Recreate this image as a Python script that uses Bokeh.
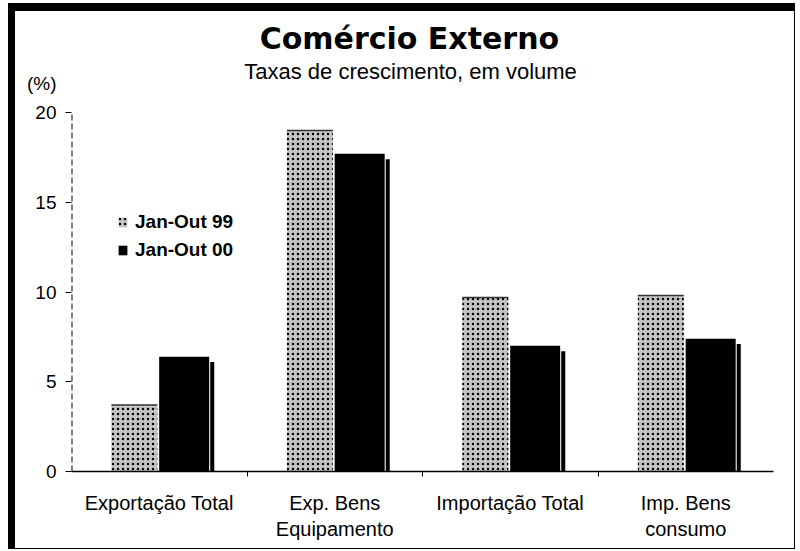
from bokeh.plotting import figure
from bokeh.models import (Range1d, FixedTicker, Label, Legend, LegendItem,
                          ColumnDataSource)
from bokeh.embed import file_html
from bokeh.resources import INLINE

# ---- data ----
categories = ["Exportação Total", "Exp. Bens\nEquipamento",
              "Importação Total", "Imp. Bens\nconsumo"]
jan_out_99 = [3.7, 19.0, 9.7, 9.8]
jan_out_00 = [6.4, 17.7, 7.0, 7.4]
series_names = ["Jan-Out 99", "Jan-Out 00"]
y_ticks = [0, 5, 10, 15, 20]
y_unit_label = "(%)"

centers = [i + 0.5 for i in range(len(categories))]
boundaries = [i for i in range(1, len(categories))]

src = ColumnDataSource(dict(
    x99=[c - 0.142 for c in centers],
    x00=[c + 0.142 for c in centers],
    xs=[c + 0.302 for c in centers],
    v99=jan_out_99,
    v00=jan_out_00,
    vs=[v - 0.3 for v in jan_out_00],
))

Y_TOP = 25.63    # free room above the 20 % line for the titles
UNIT_POS = 21.6  # height of the "(%)" caption, in axis units

p = figure(width=787, height=546, output_backend="svg", toolbar_location=None,
           x_range=Range1d(0, len(categories)), y_range=Range1d(0, Y_TOP),
           min_border_left=56, min_border_right=29,
           min_border_top=0, min_border_bottom=86)
p.styles = {"margin-left": "8px", "margin-top": "3px",
            "border-left": "7px solid black", "border-top": "8px solid black",
            "border-right": "1.5px solid black",
            "border-bottom": "1.5px solid black"}
p.background_fill_color = "white"
p.border_fill_color = "white"
p.outline_line_color = None
p.grid.visible = False

r99 = p.vbar(x="x99", width=0.262, top="v99", bottom=0, source=src,
             fill_color="#c4c4c4", line_color=None,
             hatch_pattern="dot", hatch_color="black", hatch_scale=5,
             hatch_weight=1.2)
p.vbar(x="x99", width=0.262, top="v99", bottom="v99", source=src,
       fill_color=None, line_color="#333333", line_width=1.5)
r00 = p.vbar(x="x00", width=0.285, top="v00", bottom=0, source=src,
             fill_color="black", line_color=None)
p.vbar(x="xs", width=0.023, top="vs", bottom=0, source=src,
       fill_color="black", line_color=None)

# dashed value-axis line (0 .. 20), drawn on the frame's left edge
p.segment(x0=[0], y0=[y_ticks[0]], x1=[0], y1=[y_ticks[-1]],
          line_color="black", line_width=2, line_dash="6 3")

# x axis
xa = p.xaxis[0]
xa.ticker = FixedTicker(ticks=centers, minor_ticks=boundaries)
xa.major_label_overrides = {c: lab for c, lab in zip(centers, categories)}
xa.major_tick_line_color = None
xa.major_tick_out = 0
xa.minor_tick_line_color = "black"
xa.minor_tick_out = 5
xa.minor_tick_in = 0
xa.axis_line_color = "black"
xa.axis_line_width = 1.5
xa.major_label_standoff = 15
xa.major_label_text_font = "Liberation Sans"
xa.major_label_text_font_size = "20px"
xa.major_label_text_color = "black"
xa.major_label_text_line_height = 1.2

# y axis: tick marks as minor ticks, labels (incl. the "(%)" caption) as majors
ya = p.yaxis[0]
ya.ticker = FixedTicker(ticks=y_ticks + [UNIT_POS], minor_ticks=y_ticks)
ya.bounds = (y_ticks[0], UNIT_POS)
ya.major_label_overrides = {UNIT_POS: y_unit_label}
ya.axis_line_color = None
ya.major_tick_line_color = None
ya.major_tick_out = 0
ya.minor_tick_line_color = "black"
ya.minor_tick_out = 6
ya.minor_tick_in = 0
ya.major_label_standoff = 9
ya.major_label_text_font = "Liberation Sans"
ya.major_label_text_font_size = "19px"
ya.major_label_text_color = "black"

# titles (placed in the free space above the 20 % line)
p.add_layout(Label(x=1.955, y=24.12, text="Comércio  Externo",
                   text_align="center", text_baseline="middle",
                   text_font="DejaVu Sans", text_font_style="bold",
                   text_font_size="30px", text_color="black"))
p.add_layout(Label(x=1.932, y=22.3, text="Taxas de crescimento, em volume",
                   text_align="center", text_baseline="middle",
                   text_font="Liberation Sans", text_font_size="22px",
                   text_color="black"))

legend = Legend(items=[LegendItem(label=series_names[0], renderers=[r99]),
                       LegendItem(label=series_names[1], renderers=[r00])],
                location=(46, 210), padding=0, margin=0, spacing=6,
                label_height=20, glyph_height=12, glyph_width=11,
                label_standoff=7, background_fill_alpha=0,
                border_line_color=None,
                label_text_font="Liberation Sans", label_text_font_style="bold",
                label_text_font_size="19px", label_text_color="black")
p.add_layout(legend)

open("out.html", "w").write(file_html(p, INLINE))
